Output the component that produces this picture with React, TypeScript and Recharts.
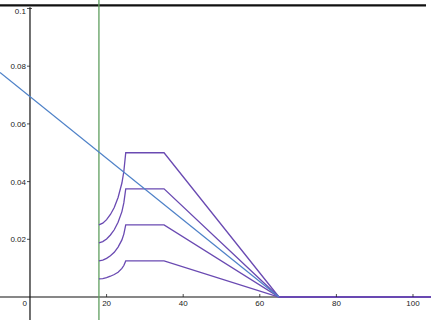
import React from 'react';
import { LineChart, Line, XAxis, YAxis, ReferenceLine, ReferenceDot } from 'recharts';

// x positions along the rising part of the purple curves
const riseX = [18, 19, 20, 21, 22, 23, 24, 24.5, 25];
const curveA = [0.025, 0.0256, 0.0268, 0.0286, 0.031, 0.0345, 0.0395, 0.0435, 0.05];
const curveB = [0.0188, 0.0192, 0.0201, 0.0215, 0.0233, 0.0259, 0.0296, 0.0326, 0.0375];
const curveC = [0.0125, 0.0128, 0.0134, 0.0143, 0.0155, 0.0173, 0.0198, 0.0218, 0.025];
const curveD = [0.0063, 0.0064, 0.0067, 0.0072, 0.0078, 0.0086, 0.0099, 0.0109, 0.0125];
const plateauEnd = 35;
const zeroAt = 65;
const xMin = -7.83;
const xEnd = 104.7;
const yMin = -0.00797;
const yMax = 0.10294;

const blueX = [xMin, 65];
const blueY = [0.0778, 0];

const xTicks = [0, 20, 40, 60, 80, 100];
const yTicks = [0.02, 0.04, 0.06, 0.08, 0.1];
const cutoffX = 18;
const topLine = 0.1011;
const axisTop = 0.1004;

const purple = '#6a4ab2';
const blue = '#4f82c8';
const green = '#5f9e5f';

function buildCurve(vals: number[]) {
  const pts = riseX.map((x, i) => ({ x, y: vals[i] }));
  const peak = vals[vals.length - 1];
  pts.push({ x: plateauEnd, y: peak });
  pts.push({ x: zeroAt, y: 0 });
  pts.push({ x: xEnd, y: 0 });
  return pts;
}

const curves = [curveA, curveB, curveC, curveD].map(buildCurve);
const blueData = blueX.map((x, i) => ({ x, y: blueY[i] }));

const font = { fontFamily: 'Liberation Sans, Arial, sans-serif', fontSize: 8, fill: '#222' };

const XTick = (label: number) => (props: any) => {
  const { cx, cy } = props;
  return (
    <g>
      {label !== 0 && <line x1={cx} y1={cy - 3} x2={cx} y2={cy} stroke="#222" strokeWidth={0.8} />}
      <text
        x={label === 0 ? cx - 3 : cx}
        y={cy + 9}
        textAnchor={label === 0 ? 'end' : 'middle'}
        {...font}
      >
        {label}
      </text>
    </g>
  );
};

const YTick = (label: number) => (props: any) => {
  const { cx, cy } = props;
  // the top label sits a little lower so it clears the frame line
  const dy = label === 0.1 ? 6 : 3;
  return (
    <g>
      <line x1={cx - 3} y1={cy} x2={label === 0.1 ? cx + 2 : cx} y2={cy} stroke="#222" strokeWidth={0.8} />
      <text x={cx - 4} y={cy + dy} textAnchor="end" {...font}>
        {label}
      </text>
    </g>
  );
};

export default function App() {
  return (
    <div style={{ position: 'absolute', left: 0, top: 0, background: '#fff' }}>
      <LineChart width={431} height={320} margin={{ top: 0, right: 0, left: 0, bottom: 0 }}>
        <XAxis type="number" dataKey="x" domain={[xMin, xEnd]} hide allowDataOverflow />
        <YAxis type="number" dataKey="y" domain={[yMin, yMax]} hide allowDataOverflow />
        <ReferenceLine y={0} stroke="#111" strokeWidth={1.2} />
        <ReferenceLine
          segment={[{ x: 0, y: yMin }, { x: 0, y: axisTop }]}
          stroke="#111"
          strokeWidth={1.2}
        />
        <ReferenceLine
          segment={[{ x: xMin, y: topLine }, { x: 103.4, y: topLine }]}
          stroke="#111"
          strokeWidth={2.2}
        />
        <ReferenceLine x={cutoffX} stroke={green} strokeWidth={1.3} />
        {xTicks.map((t) => (
          <ReferenceDot key={'x' + t} x={t} y={0} r={0} shape={XTick(t)} />
        ))}
        {yTicks.map((t) => (
          <ReferenceDot key={'y' + t} x={0} y={t} r={0} shape={YTick(t)} />
        ))}
        {curves.map((d, i) => (
          <Line
            key={i}
            data={d}
            dataKey="y"
            type="linear"
            stroke={purple}
            strokeWidth={1.3}
            dot={false}
            activeDot={false}
            isAnimationActive={false}
          />
        ))}
        <Line
          data={blueData}
          dataKey="y"
          type="linear"
          stroke={blue}
          strokeWidth={1.3}
          dot={false}
          activeDot={false}
          isAnimationActive={false}
        />
      </LineChart>
    </div>
  );
}
